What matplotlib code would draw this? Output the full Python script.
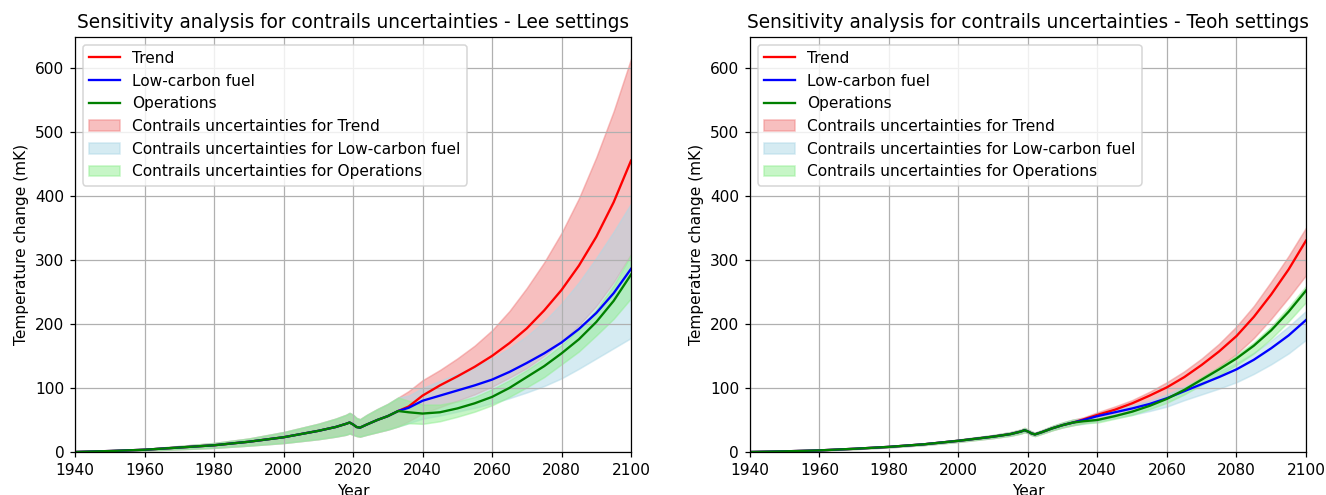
#Sensitivity of aviation warming to contrails uncertainties, Lee vs Teoh settings.
import matplotlib
matplotlib.use('Agg')
from matplotlib import pyplot as plt

#Years (common history up to 2033, then scenarios split)
hist_years=[1940,1950,1960,1970,1980,1990,2000,2010,2015,2018,2019,2020,2021,2022,2024,2027,2030,2033]
future_years=[2036,2040,2045,2050,2055,2060,2065,2070,2075,2080,2085,2090,2095,2100]
years=hist_years+future_years

#Lee settings (mK)
lee_hist=[0,1.5,3.5,7,10.5,16,23,33,39,44,46,43,39,38,43,50,56,64]
lee_hist_up=[0,2,4.7,9.3,14,21,31,44,52,58,61,58,53,51,58,67,75,85]
lee_hist_low=[0,1,2.2,4.3,6.5,10,14,20,24,27,29,27,25,24,27,31,35,40]

lee_trend=lee_hist+[71,88,104,118,133,150,170,193,221,253,291,336,390,455]
lee_trend_up=lee_hist_up+[95,112,128,146,166,190,220,256,296,342,396,460,532,614]
lee_trend_low=lee_hist_low+[48,60,70,80,90,102,116,131,150,172,198,228,265,309]

lee_fuel=lee_hist+[69,80,88,96,104,113,125,139,154,171,192,217,248,286]
lee_fuel_up=lee_hist_up+[88,100,111,122,133,146,162,181,204,232,265,303,344,388]
lee_fuel_low=lee_hist_low+[45,52,57,63,69,76,84,93,103,115,130,146,162,178]

lee_ops=lee_hist+[62,60,62,68,76,86,100,117,134,154,176,203,236,277]
lee_ops_up=lee_hist_up+[80,74,74,79,86,98,112,128,146,167,192,222,260,308]
lee_ops_low=lee_hist_low+[45,44,48,55,63,73,86,101,117,137,157,182,208,240]

#Teoh settings (mK)
teoh_hist=[0,1,2.5,5,8,12,17.5,24,28,32,34,32,29,27.5,31,37,42,46]
teoh_hist_up=[0,1.1,2.8,5.5,8.8,13.2,19.3,26.4,31,35,37.5,35,32,30,34,40.5,46,50.5]
teoh_hist_low=[0,0.9,2.2,4.5,7.2,10.8,15.8,21.8,25.5,29,31,29.5,26.5,25,28.5,34,38.5,42]

teoh_trend=teoh_hist+[51,58,66,76,88,101,117,136,157,181,211,246,285,330]
teoh_trend_up=teoh_hist_up+[54,62,71,81,94,109,126,146,169,196,228,266,306,350]
teoh_trend_low=teoh_hist_low+[45,50,56,64,74,85,99,115,133,153,178,208,241,276]

teoh_fuel=teoh_hist+[50,56,62,68,75,84,95,106,117,129,144,162,182,206]
teoh_fuel_up=teoh_hist_up+[53,60,66,73,80,90,102,114,126,139,155,174,196,220]
teoh_fuel_low=teoh_hist_low+[44,48,53,58,64,71,81,90,99,109,122,137,154,175]

teoh_ops=teoh_hist+[48,50,56,63,72,83,97,113,129,146,166,190,219,252]
teoh_ops_up=teoh_hist_up+[50,52,58,65,74,86,100,117,133,151,171,196,226,259]
teoh_ops_low=teoh_hist_low+[45,46,52,58,67,77,90,105,120,136,154,177,204,234]

settings=[
    ('Lee',[lee_trend,lee_fuel,lee_ops],[lee_trend_up,lee_fuel_up,lee_ops_up],[lee_trend_low,lee_fuel_low,lee_ops_low]),
    ('Teoh',[teoh_trend,teoh_fuel,teoh_ops],[teoh_trend_up,teoh_fuel_up,teoh_ops_up],[teoh_trend_low,teoh_fuel_low,teoh_ops_low]),
]
names=['Trend','Low-carbon fuel','Operations']
line_colors=['red','blue','green']
fill_colors=['lightcoral','lightblue','lightgreen']

#Plot data
fig=plt.figure(dpi=111, figsize=(1326/111,495/111))
lefts=[0.0566,0.5656]
for left,(label,lines,ups,lows) in zip(lefts,settings):
    ax=fig.add_axes([left,0.0869,0.4193,0.8384])
    for name,vals,c in zip(names,lines,line_colors):
        ax.plot(years, vals, color=c, label=name)
    for name,up,low,c in zip(names,ups,lows,fill_colors):
        ax.fill_between(years, low, up, color=c, alpha=0.5,
                        label='Contrails uncertainties for '+name)

    #Format plot
    ax.set_title('Sensitivity analysis for contrails uncertainties - '+label+' settings')
    ax.set_xlabel('Year')
    ax.set_ylabel('Temperature change (mK)')
    ax.set_xlim(1940,2100)
    ax.set_ylim(0,648)
    ax.grid(True)
    ax.legend(loc='upper left')

plt.savefig('out.png')
